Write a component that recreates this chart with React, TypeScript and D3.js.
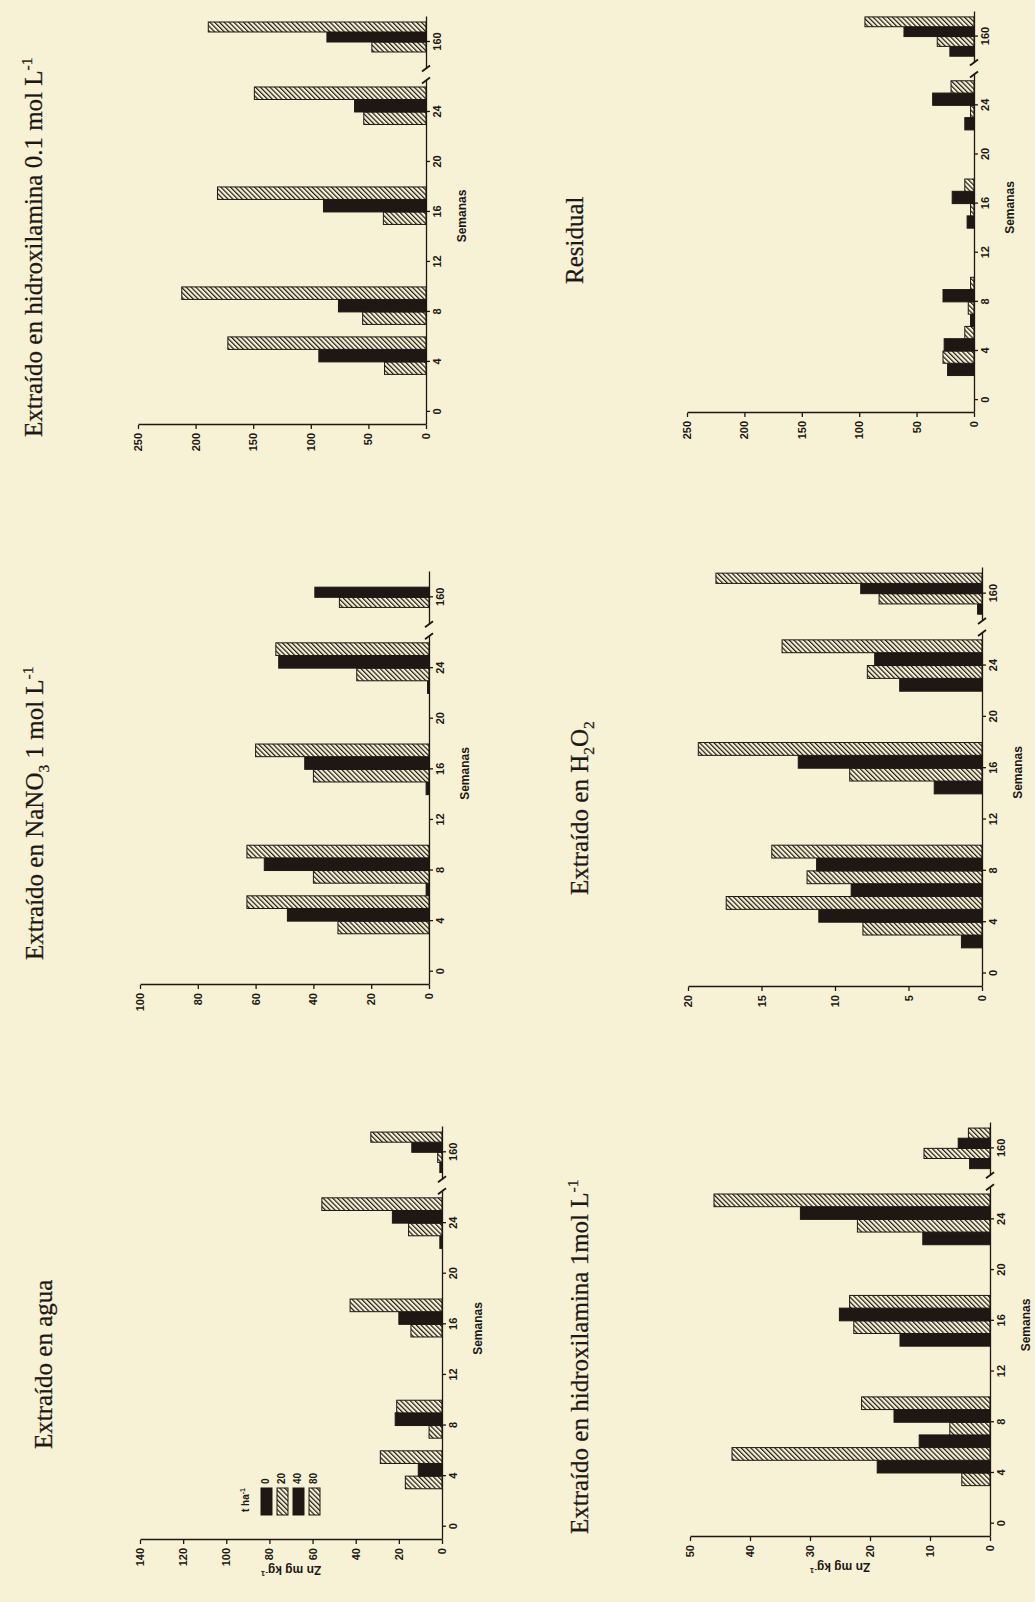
import * as d3 from 'd3'
import { useEffect, useRef } from 'react'

const INK = '#1e1713'
const PAPER = '#f7f2d6'
const SANS = "'Liberation Sans', Arial, sans-serif"
const SERIF = "'Liberation Serif', 'Times New Roman', serif"

const weeks = [4, 8, 16, 24, 160]
const weekTicks = [0, 4, 8, 12, 16, 20, 24, 160]
const doses = ['0', '20', '40', '80']
const hatched = [false, true, false, true]

// Zn mg kg-1: one row per dose (0, 20, 40, 80 t ha-1), one column per week
const agua = [
  [0, 0, 0, 1, 1],
  [17, 6, 14.4, 15.5, 2],
  [11, 21.7, 20, 23, 14],
  [28.6, 21, 42.6, 55.7, 33],
]
const nitrato = [
  [0, 1, 1, 0.5, 0],
  [31.5, 40, 40, 25, 31],
  [49, 57, 43, 52, 39.5],
  [63, 63, 60, 53, 0],
]
const hidroxilamina01 = [
  [0, 0, 0, 0, 0],
  [36, 55, 37, 54, 47],
  [93, 76, 89, 62, 86],
  [172, 212, 181, 149, 189],
]
const hidroxilamina1 = [
  [0, 11.8, 15, 11.2, 3.4],
  [4.7, 6.7, 22.7, 22.1, 11],
  [18.8, 16, 25.1, 31.6, 5.3],
  [43, 21.4, 23.4, 46, 3.6],
]
const peroxido = [
  [1.4, 8.9, 3.25, 5.6, 0.3],
  [8.1, 11.9, 9, 7.8, 7],
  [11.1, 11.25, 12.5, 7.3, 8.25],
  [17.4, 14.3, 19.3, 13.6, 18.1],
]
const residual = [
  [23, 3, 6, 8, 21],
  [27, 5, 3, 3, 32],
  [26, 27, 19, 36, 61],
  [8, 3, 8, 20, 95],
]

type Part = { t: string; shift?: 'sub' | 'sup' }

const panels: {
  key: string
  title: Part[]
  values: number[][]
  max: number
  step: number
  yLabel?: boolean
  legend?: boolean
}[] = [
  { key: 'agua', title: [{ t: 'Extraído en agua' }], values: agua, max: 140, step: 20, yLabel: true, legend: true },
  {
    key: 'nitrato',
    title: [{ t: 'Extraído en NaNO' }, { t: '3', shift: 'sub' }, { t: ' 1 mol L' }, { t: '-1', shift: 'sup' }],
    values: nitrato,
    max: 100,
    step: 20,
  },
  {
    key: 'hidrox01',
    title: [{ t: 'Extraído en hidroxilamina 0.1 mol L' }, { t: '-1', shift: 'sup' }],
    values: hidroxilamina01,
    max: 250,
    step: 50,
  },
  {
    key: 'hidrox1',
    title: [{ t: 'Extraído en hidroxilamina 1mol L' }, { t: '-1', shift: 'sup' }],
    values: hidroxilamina1,
    max: 50,
    step: 10,
    yLabel: true,
  },
  {
    key: 'peroxido',
    title: [{ t: 'Extraído en H' }, { t: '2', shift: 'sub' }, { t: 'O' }, { t: '2', shift: 'sub' }],
    values: peroxido,
    max: 20,
    step: 5,
  },
  { key: 'residual', title: [{ t: 'Residual' }], values: residual, max: 250, step: 50 },
]

// page is drawn upright (1602 x 1035) and turned a quarter turn, like the scan
const layout: Record<string, { u0: number; u1: number; v0: number; v1: number; tu: number; tv: number }> = {
  agua: { u0: 62, u1: 475, v0: 442, v1: 140, tu: 153, tv: 52 },
  nitrato: { u0: 617, u1: 1030, v0: 429, v1: 140, tu: 642, tv: 43 },
  hidrox01: { u0: 1177, u1: 1585, v0: 426, v1: 138, tu: 1165, tv: 42 },
  hidrox1: { u0: 65, u1: 479, v0: 990, v1: 690, tu: 68, tv: 588 },
  peroxido: { u0: 615, u1: 1034, v0: 982, v1: 688, tu: 707, tv: 588 },
  residual: { u0: 1189, u1: 1590, v0: 974, v1: 687, tu: 1318, tv: 583 },
}

const EQ_START = -1.05
const EQ_BREAK = 27
const EQ_END = 31.6

function Axes({
  x,
  y,
  ticks,
  u0,
  v0,
  breakU,
}: {
  x: d3.ScaleLinear<number, number>
  y: d3.ScaleLinear<number, number>
  ticks: number[]
  u0: number
  v0: number
  breakU: number
}) {
  const ref = useRef<SVGGElement>(null)
  useEffect(() => {
    if (!ref.current) return
    const g = d3.select(ref.current)
    g.selectAll('*').remove()
    g.append('g')
      .attr('transform', `translate(${u0},0)`)
      .call(d3.axisLeft(y).tickValues(ticks).tickSize(4).tickPadding(4).tickSizeOuter(0))
    g.append('g')
      .attr('transform', `translate(0,${v0})`)
      .call(d3.axisBottom(x).tickValues(weekTicks).tickFormat(d3.format('d')).tickSize(4).tickPadding(3).tickSizeOuter(0))
    g.selectAll('g')
      .attr('font-family', SANS)
      .attr('font-size', 11)
      .attr('font-weight', 'bold')
    g.selectAll('text').attr('fill', INK)
    g.selectAll('line,path').attr('stroke', INK).attr('stroke-width', 1.3)
    // axis break
    g.append('rect')
      .attr('x', breakU - 6)
      .attr('y', v0 - 3)
      .attr('width', 12)
      .attr('height', 6)
      .attr('fill', PAPER)
    ;[-6, 6].forEach((o) => {
      g.append('line')
        .attr('x1', breakU + o - 3)
        .attr('y1', v0 - 4)
        .attr('x2', breakU + o + 3)
        .attr('y2', v0 + 4)
        .attr('stroke', INK)
        .attr('stroke-width', 1.8)
    })
  }, [x, y, ticks, u0, v0, breakU])
  return <g ref={ref} />
}

function Title({ parts, u, v, size }: { parts: Part[]; u: number; v: number; size: number }) {
  let level = 0
  return (
    <text x={u} y={v} fontFamily={SERIF} fontSize={size} fill={INK} stroke={INK} strokeWidth={0.25}>
      {parts.map((p, i) => {
        const target = p.shift === 'sub' ? size * 0.22 : p.shift === 'sup' ? -size * 0.42 : 0
        const dy = target - level
        level = target
        return (
          <tspan key={i} dy={dy} fontSize={p.shift ? size * 0.62 : size}>
            {p.t}
          </tspan>
        )
      })}
    </text>
  )
}

function Panel({ p }: { p: (typeof panels)[number] }) {
  const L = layout[p.key]
  const eq = d3.scaleLinear().domain([EQ_START, EQ_END]).range([L.u0, L.u1])
  const x = d3
    .scaleLinear()
    .domain([EQ_START, EQ_BREAK, 156.75, 162.5])
    .range([eq(EQ_START), eq(EQ_BREAK), eq(EQ_BREAK), eq(EQ_END)])
  const y = d3.scaleLinear().domain([0, p.max]).range([L.v0, L.v1])
  const ticks = d3.range(0, p.max + p.step / 2, p.step)

  return (
    <g>
      <Title parts={p.title} u={L.tu} v={L.tv} size={25} />
      {p.values.map((row, s) =>
        row.map((val, wi) => {
          const w = weeks[wi]
          const a = x(w - 2 + s)
          const b = x(w - 1 + s)
          if (val <= 0) return null
          return (
            <rect
              key={`${s}-${wi}`}
              x={a}
              width={b - a}
              y={y(val)}
              height={y(0) - y(val)}
              fill={hatched[s] ? 'url(#hatch)' : INK}
              stroke={INK}
              strokeWidth={1}
            />
          )
        }),
      )}
      <Axes x={x} y={y} ticks={ticks} u0={L.u0} v0={L.v0} breakU={eq(EQ_BREAK)} />
      <text
        x={(L.u0 + L.u1) / 2 + 5}
        y={L.v0 + 40}
        textAnchor="middle"
        fontFamily={SANS}
        fontWeight="bold"
        fontSize={12}
        fill={INK}
      >
        Semanas
      </text>
      {p.yLabel && (
        <text
          transform={`translate(${L.u0 - 26},${(L.v0 + L.v1) / 2}) rotate(-90)`}
          textAnchor="middle"
          fontFamily={SANS}
          fontWeight="bold"
          fontSize={12}
          fill={INK}
        >
          Zn mg kg
          <tspan dy={-5} fontSize={8}>
            -1
          </tspan>
        </text>
      )}
      {p.legend && (
        <g transform={`translate(${L.u0 + 25},${L.v1 + 109})`} fontFamily={SANS} fontWeight="bold" fill={INK}>
          <text x={3} y={0} fontSize={10}>
            t ha
            <tspan dy={-4} fontSize={7}>
              -1
            </tspan>
          </text>
          {doses.map((d, i) => (
            <g key={d} transform={`translate(0,${12 + i * 16})`}>
              <rect width={27} height={11} fill={hatched[i] ? 'url(#hatch)' : INK} stroke={INK} strokeWidth={1} />
              <text x={31} y={5.5} dominantBaseline="middle" fontSize={10}>
                {d}
              </text>
            </g>
          ))}
        </g>
      )}
    </g>
  )
}

export default function App() {
  return (
    <svg width={1035} height={1602} style={{ position: 'absolute', left: 0, top: 0, display: 'block' }}>
      <rect width={1035} height={1602} fill={PAPER} />
      <g transform="translate(0,1602) rotate(-90)">
        <defs>
          <pattern id="hatch" patternUnits="userSpaceOnUse" width={3.4} height={3.4} patternTransform="rotate(45)">
            <rect width={3.4} height={3.4} fill={PAPER} />
            <line x1={0.6} y1={0} x2={0.6} y2={3.4} stroke={INK} strokeWidth={1.2} />
          </pattern>
        </defs>
        {panels.map((p) => (
          <Panel key={p.key} p={p} />
        ))}
      </g>
    </svg>
  )
}
